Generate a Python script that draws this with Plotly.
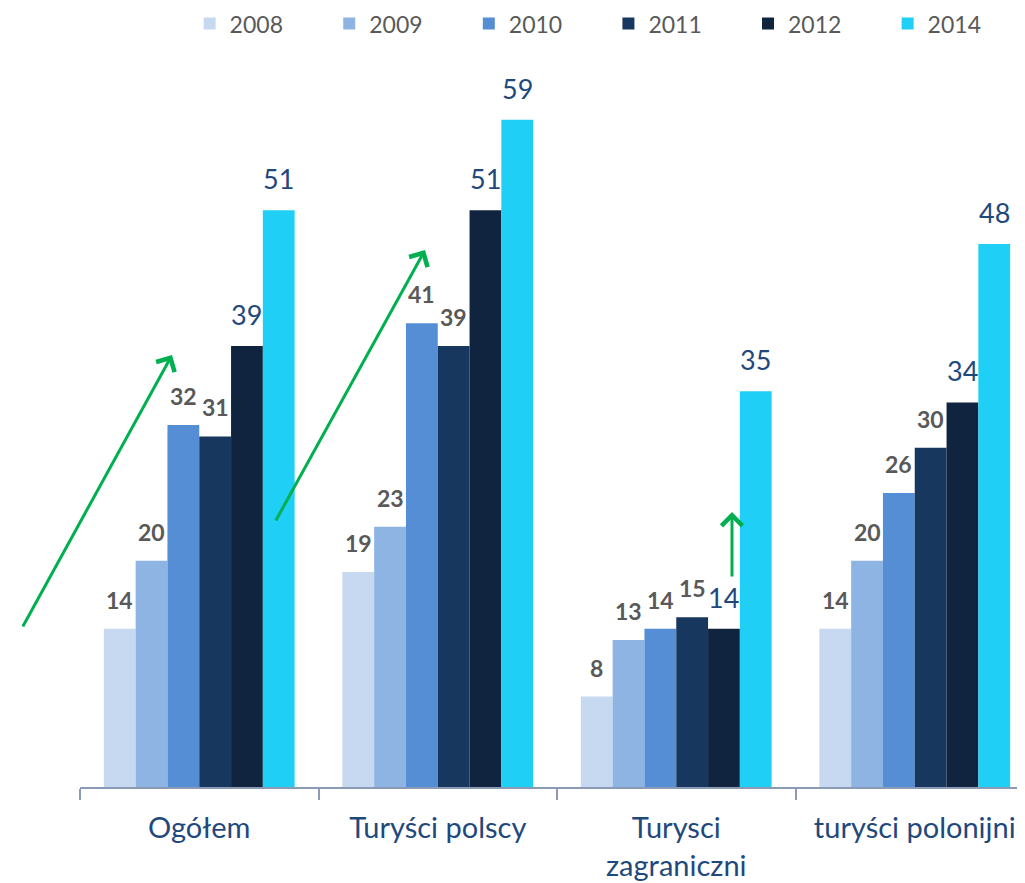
import plotly.graph_objects as go

categories = ["Ogółem", "Turyści polscy", "Turysci<br>zagraniczni", "turyści polonijni"]
years = ["2008", "2009", "2010", "2011", "2012", "2014"]
v2008 = [14, 19, 8, 14]
v2009 = [20, 23, 13, 20]
v2010 = [32, 41, 14, 26]
v2011 = [31, 39, 15, 30]
v2012 = [39, 51, 14, 34]
v2014 = [51, 59, 35, 48]
series = [v2008, v2009, v2010, v2011, v2012, v2014]
colors = ["#C6D9F1", "#8DB4E2", "#558ED5", "#17375E", "#10243F", "#1FCFF5"]

FONT = "Lato, Carlito, Open Sans, sans-serif"
grey_lbl = dict(family=FONT, size=23, color="#595959", weight="bold")
blue_lbl = dict(family=FONT, size=27, color="#1F497D")

# page body has an 8px margin: size the figure so it fits the 1025x883 window
PAGE = 8
W, H = 1025 - PAGE, 883 - PAGE
ml, mr, mt, mb = 72, 0, 52, 96
cat_w = 238.5
bargap = 0.2
plot_w = W - ml - mr
plot_h = H - mt - mb
px_per_unit = 11.31
bar_px = cat_w * (1 - bargap) / len(years)

fig = go.Figure()
for i, (yr, vals, col) in enumerate(zip(years, series, colors)):
    fig.add_trace(go.Bar(
        name=yr, x=categories, y=vals, marker=dict(color=col, line=dict(width=0)),
        hoverinfo="x+y+name",
    ))
    # data labels, placed above each bar through the axes' scales
    for c, v in zip(categories, vals):
        fig.add_annotation(
            x=c, y=v, xref="x", yref="y", text=str(v), showarrow=False,
            xanchor="center", yanchor="bottom",
            xshift=(i - (len(years) - 1) / 2) * bar_px, yshift=13,
            font=blue_lbl if i >= 4 else grey_lbl,
        )

fig.update_layout(
    width=W, height=H,
    margin=dict(l=ml, r=mr, t=mt, b=mb, autoexpand=False),
    plot_bgcolor="white", paper_bgcolor="white",
    barmode="group", bargap=bargap, bargroupgap=0,
    font=dict(family=FONT),
    legend=dict(orientation="h", x=0.116, xanchor="left", y=1.05, yanchor="middle",
                font=dict(family=FONT, size=23, color="#595959"),
                entrywidth=94.6, entrywidthmode="pixels",
                traceorder="normal"),
    showlegend=True,
)
fig.update_xaxes(
    range=[-0.5, -0.5 + plot_w / cat_w],
    showline=True, linecolor="#8C9BB5", linewidth=2,
    ticks="outside", tickson="boundaries", ticklen=11, tickcolor="#8C9BB5", tickwidth=1.5,
    tickfont=dict(family=FONT, size=29, color="#1F497D"),
    ticklabelstandoff=14, showgrid=False,
)
fig.update_yaxes(range=[0, plot_h / px_per_unit], visible=False, showgrid=False)

# Green trend arrows (annotations; window pixel positions converted to paper)
def paper_x(px):
    return (px - PAGE - ml) / plot_w

def paper_y(py):
    return (H - mb - (py - PAGE)) / plot_h

arrows = [((172, 355), (22, 628)), ((425, 250), (275, 522)), ((732, 512), (732, 578))]
for (hx, hy), (tx, ty) in arrows:
    fig.add_annotation(x=paper_x(hx), y=paper_y(hy), xref="paper", yref="paper",
                       ax=tx - hx, ay=ty - hy, axref="pixel", ayref="pixel",
                       text="", showarrow=True, arrowhead=4, arrowsize=1.35,
                       arrowwidth=3, arrowcolor="#00B050")

fig.write_html("out.html")
